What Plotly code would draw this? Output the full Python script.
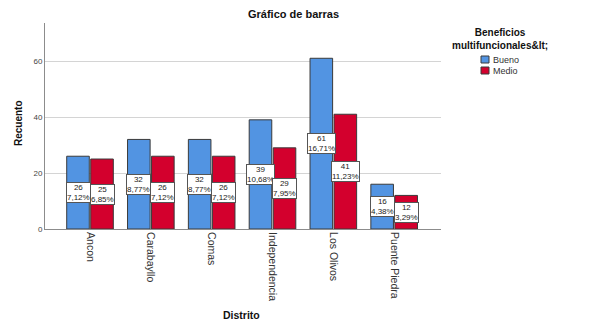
import plotly.graph_objects as go

categories = ["Ancon", "Carabayllo", "Comas", "Independencia", "Los Olivos", "Puente Piedra"]
bueno = [26, 32, 32, 39, 61, 16]
medio = [25, 26, 26, 29, 41, 12]
bueno_pct = ["7,12%", "8,77%", "8,77%", "10,68%", "16,71%", "4,38%"]
medio_pct = ["6,85%", "7,12%", "7,12%", "7,95%", "11,23%", "3,29%"]
series_names = ["Bueno", "Medio"]
colors = ["#5294E2", "#D3002D"]
y_ticks = [0, 20, 40, 60]

FONT = "Liberation Sans, Arial, sans-serif"
W, H = 589, 329
L, R, T, B = 45, 148, 23, 100
pw, ph = W - L - R, H - T - B

def px2x(px):
    return (px - L) / pw

def py2y(py):
    return (H - B - py) / ph

fig = go.Figure()
for name, vals, col in zip(series_names, [bueno, medio], colors):
    fig.add_trace(go.Bar(
        x=categories, y=vals, name=name,
        marker=dict(color=col, line=dict(color="#3a3a3a", width=1)),
        showlegend=False, hoverinfo="x+y",
    ))

annotations = []
for vals, pcts, shift in [(bueno, bueno_pct, -12), (medio, medio_pct, 12)]:
    for c, v, p in zip(categories, vals, pcts):
        annotations.append(dict(
            x=c, y=v / 2, xref="x", yref="y", xshift=shift,
            text=f"{v}<br>{p}", showarrow=False,
            font=dict(family=FONT, size=8, color="#222"),
            bgcolor="white", bordercolor="#555", borderwidth=1, borderpad=0,
            align="center",
        ))

# titles
annotations.append(dict(x=px2x(293.5), y=py2y(14), xref="paper", yref="paper", xanchor="center", yanchor="middle",
                        text="<b>Gráfico de barras</b>", showarrow=False,
                        font=dict(family=FONT, size=11, color="#111")))
annotations.append(dict(x=px2x(241), y=py2y(315), xref="paper", yref="paper", xanchor="center", yanchor="middle",
                        text="<b>Distrito</b>", showarrow=False,
                        font=dict(family=FONT, size=10.5, color="#111")))
annotations.append(dict(x=px2x(18), y=py2y(123), xref="paper", yref="paper", xanchor="center", yanchor="middle",
                        text="<b>Recuento</b>", showarrow=False, textangle=-90,
                        font=dict(family=FONT, size=10, color="#111")))
# legend (custom)
annotations.append(dict(x=px2x(500), y=py2y(39.5), xref="paper", yref="paper", xanchor="center", yanchor="middle",
                        text="<b>Beneficios<br>multifuncionales&amp;lt;</b>", showarrow=False,
                        font=dict(family=FONT, size=10, color="#111")))
shapes = []
for i, (name, col) in enumerate(zip(series_names, colors)):
    cy = 59.5 + 11 * i
    shapes.append(dict(type="rect", xref="paper", yref="paper",
                       x0=px2x(481), x1=px2x(489), y0=py2y(cy + 3.5), y1=py2y(cy - 3.5),
                       fillcolor=col, line=dict(color="#3a3a3a", width=1)))
    annotations.append(dict(x=px2x(491), y=py2y(cy), xref="paper", yref="paper", xanchor="left", yanchor="middle",
                            text=name, showarrow=False,
                            font=dict(family=FONT, size=9, color="#333")))

fig.update_layout(
    width=W, height=H,
    margin=dict(l=L, r=R, t=T, b=B),
    paper_bgcolor="white", plot_bgcolor="white",
    barmode="group", bargap=0.21, bargroupgap=0.06,
    font=dict(family=FONT, color="#333"),
    annotations=annotations, shapes=shapes,
    showlegend=False,
)
fig.update_xaxes(
    range=[-0.74, 5.77], tickangle=90, showline=True, linecolor="#8c8c8c", linewidth=1,
    ticks="", tickfont=dict(family=FONT, size=10.5, color="#333"), showgrid=False,
)
fig.update_yaxes(
    range=[0, 73.6], tickvals=y_ticks, showline=True, linecolor="#8c8c8c", linewidth=1,
    showgrid=True, gridcolor="#d4d4d4", gridwidth=1, zeroline=False, ticks="",
    tickfont=dict(family=FONT, size=8, color="#444"),
)

fig.write_html("out.html")
